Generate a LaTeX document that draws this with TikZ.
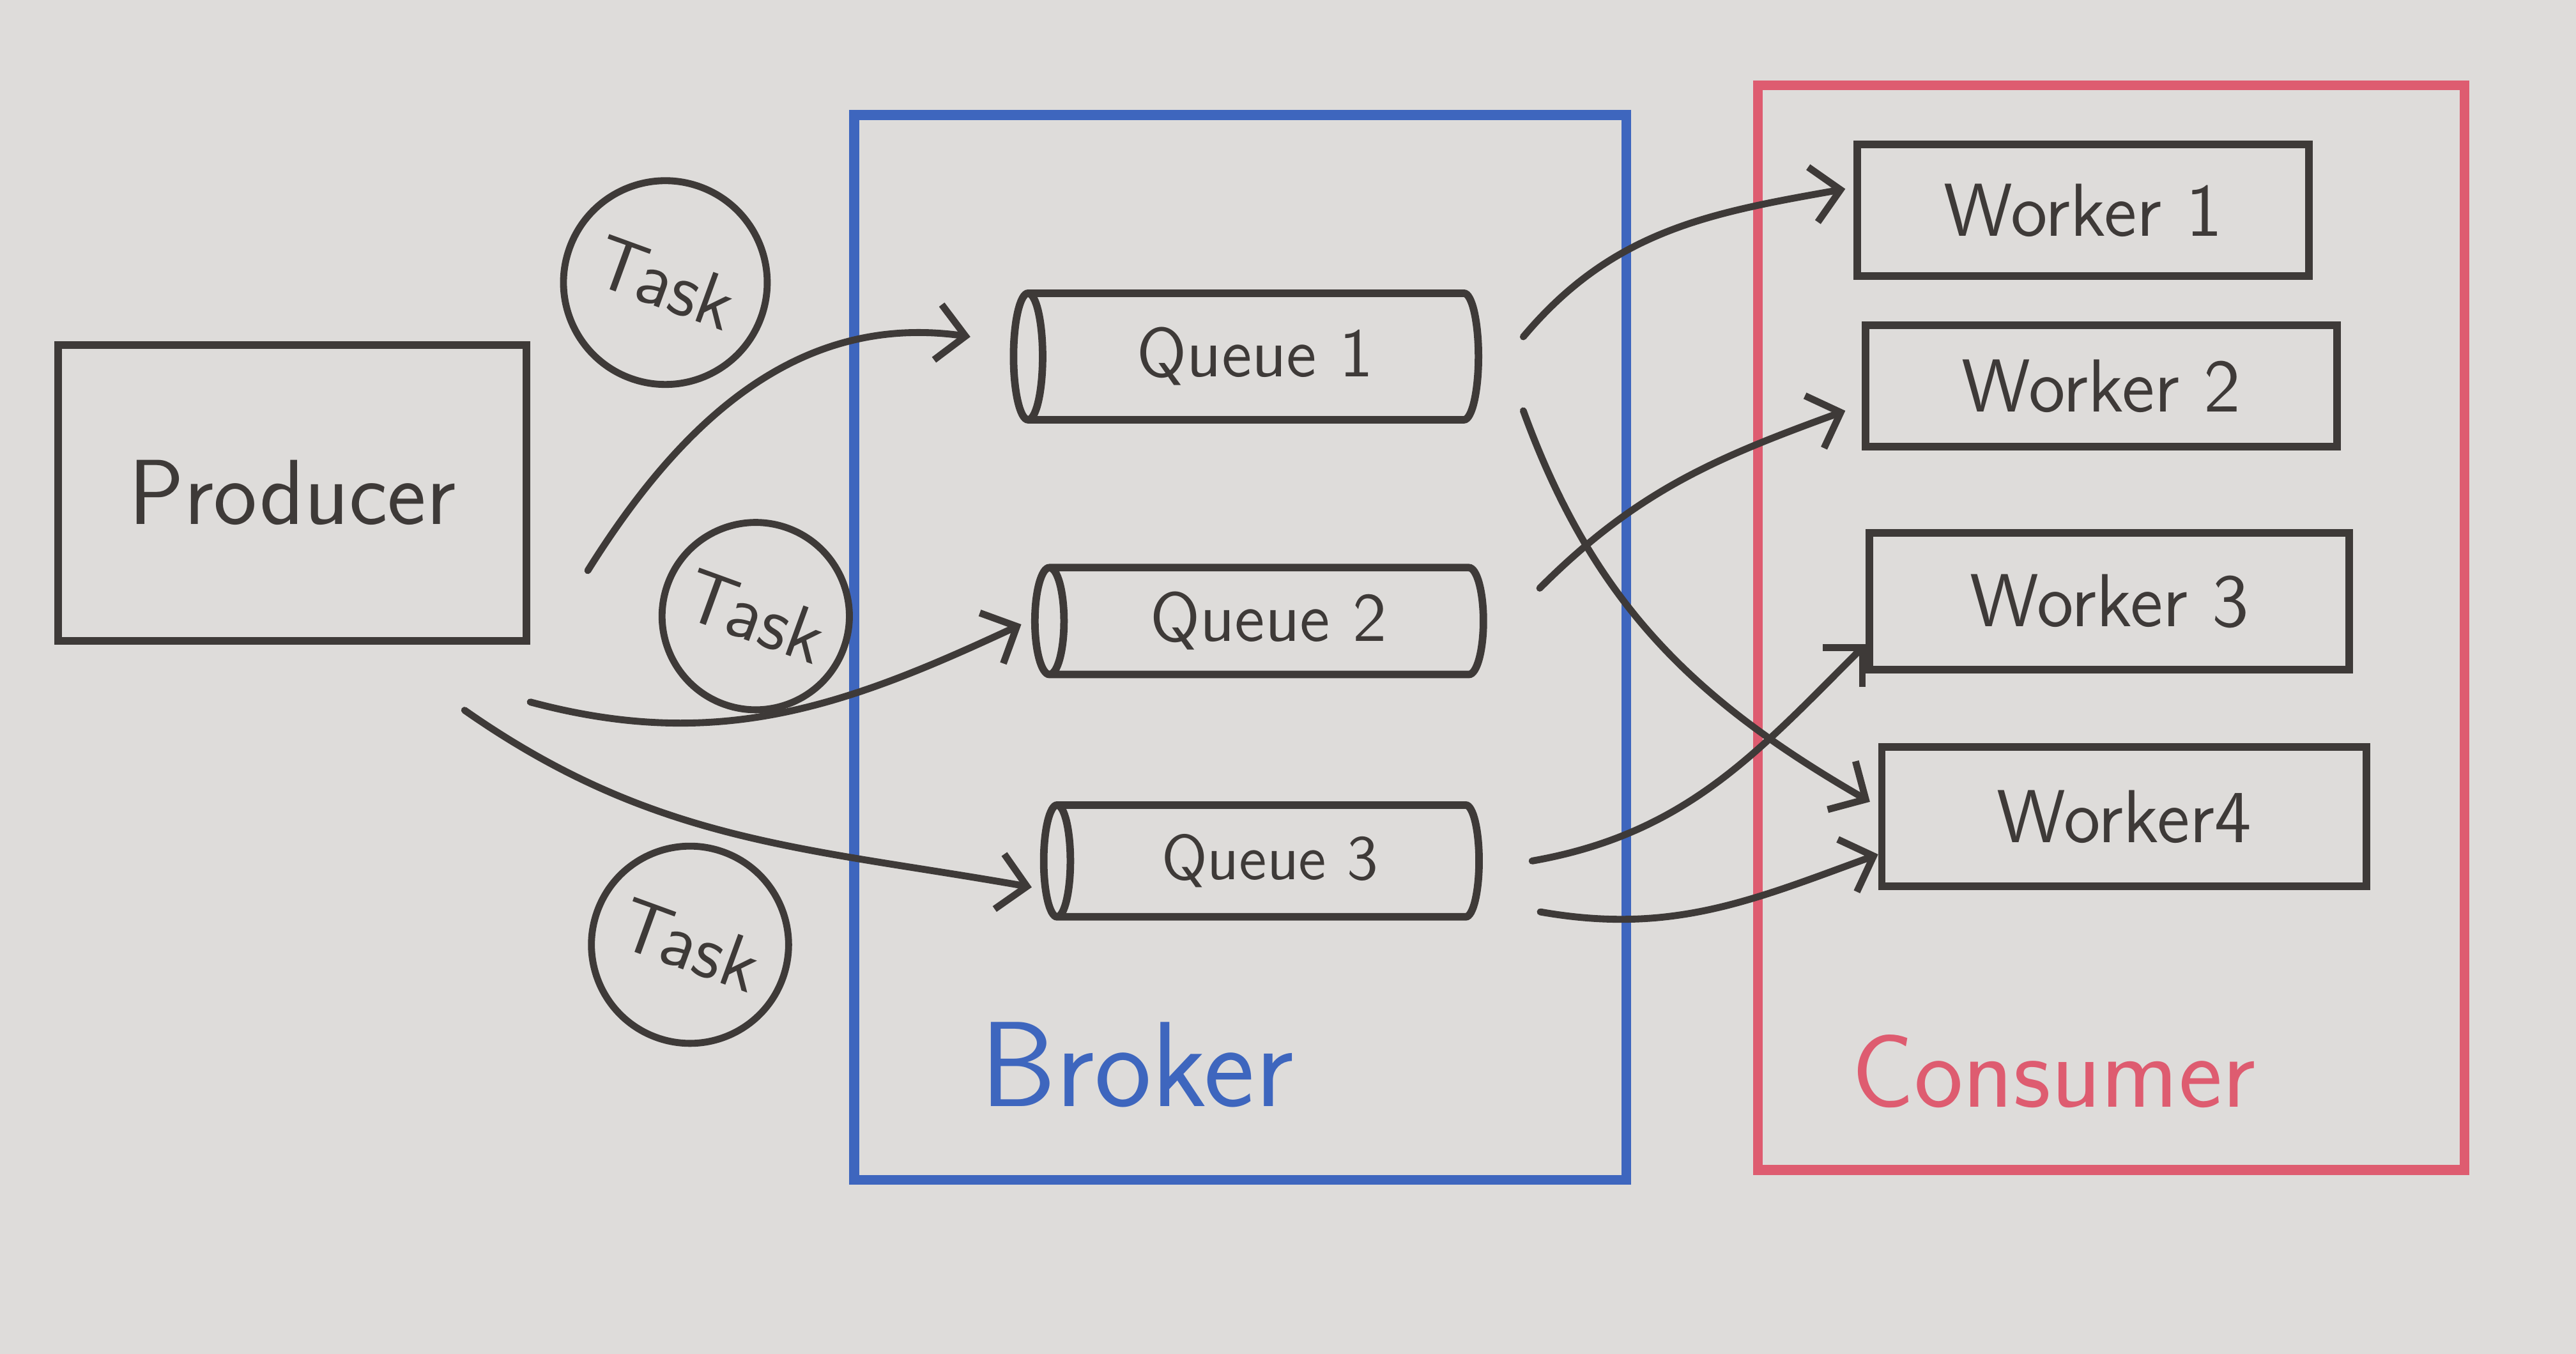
\documentclass[tikz,border=0pt]{standalone}
\usepackage{tikz}
\usetikzlibrary{arrows.meta}
\usetikzlibrary{shapes.geometric}
\usetikzlibrary{positioning}

\definecolor{board}{RGB}{222,220,218}
\definecolor{ink}{RGB}{62,58,56}
\definecolor{bluemarker}{RGB}{62,102,190}
\definecolor{redmarker}{RGB}{222,92,112}

\begin{document}
\begin{tikzpicture}[
  >={Straight Barb[angle=90:2.4mm, line width=1.2pt]},
  every node/.style={font=\sffamily},
  box/.style={draw=ink, line width=1.3pt, text=ink, rectangle, inner sep=0pt},
  queue/.style={draw=ink, line width=1.3pt, text=ink, cylinder, shape border rotate=180, aspect=0.5, inner sep=0pt},
  task/.style={draw=ink, line width=1.2pt, text=ink, circle, inner sep=0pt},
  frame/.style={rectangle, line width=1.7pt, inner sep=0pt},
  link/.style={->, draw=ink, line width=1.2pt, line cap=round}
]
\fill[board] (0,0) rectangle (15.68,8.24);
\useasboundingbox (0,0) rectangle (15.68,8.24);

% the two marker frames
\node[frame, draw=bluemarker, minimum width=4.7cm, minimum height=6.48cm] (broker) at (7.55,4.30) {};
\node[frame, draw=redmarker, minimum width=4.3cm, minimum height=6.6cm] (consumer) at (12.85,4.42) {};
\node[text=bluemarker, font=\sffamily\fontsize{21}{24}\selectfont] (brokerlabel) at (6.92,1.76) {Broker};
\node[text=redmarker, font=\sffamily\fontsize{18}{22}\selectfont] (consumerlabel) at (12.50,1.72) {Consumer};

% producer and tasks
\node[box, minimum width=2.85cm, minimum height=1.8cm, font=\sffamily\fontsize{16}{18}\selectfont] (producer) at (1.78,5.24) {Producer};
\node[task, minimum size=1.24cm, rotate=-20, font=\sffamily\fontsize{13}{15}\selectfont] (task1) at (4.05,6.52) {Task};
\node[task, minimum size=1.14cm, rotate=-20, font=\sffamily\fontsize{13}{15}\selectfont] (task2) at (4.60,4.49) {Task};
\node[task, minimum size=1.2cm, rotate=-20, font=\sffamily\fontsize{13}{15}\selectfont] (task3) at (4.20,2.49) {Task};

% queues
\node[queue, minimum width=0.77cm, minimum height=2.83cm, font=\sffamily\fontsize{12}{14}\selectfont] (q1) at (7.64,6.07) {Queue 1};
\node[queue, minimum width=0.65cm, minimum height=2.73cm, font=\sffamily\fontsize{12}{14}\selectfont] (q2) at (7.72,4.46) {Queue 2};
\node[queue, minimum width=0.68cm, minimum height=2.65cm, font=\sffamily\fontsize{11}{13}\selectfont] (q3) at (7.73,3.00) {Queue 3};

% workers
\node[box, minimum width=2.75cm, minimum height=0.8cm, font=\sffamily\fontsize{13}{15}\selectfont] (w1) at (12.68,6.96) {Worker 1};
\node[box, minimum width=2.87cm, minimum height=0.74cm, font=\sffamily\fontsize{13}{15}\selectfont] (w2) at (12.79,5.89) {Worker 2};
\node[box, minimum width=2.92cm, minimum height=0.83cm, font=\sffamily\fontsize{13}{15}\selectfont] (w3) at (12.84,4.58) {Worker 3};
\node[box, minimum width=2.95cm, minimum height=0.85cm, font=\sffamily\fontsize{13}{15}\selectfont] (w4) at (12.93,3.27) {Worker4};

% producer -> queues
\draw[link] ([shift={(0.35,0.45)}]producer.south east) to[out=58, in=172] ([shift={(-0.24,0.12)}]q1.west);
\draw[link] ([shift={(0,-0.35)}]producer.south east) to[out=-15, in=205] ([shift={(-0.06,-0.02)}]q2.west);
\draw[link] ([shift={(-0.4,-0.4)}]producer.south east) to[out=-35, in=170] ([shift={(-0.05,-0.16)}]q3.west);

% queues -> workers
\draw[link] ([shift={(0.25,0.12)}]q1.east) to[out=50, in=190] ([shift={(-0.05,0.13)}]w1.west);
\draw[link] ([shift={(0.25,-0.33)}]q1.east) to[out=-70, in=150] ([shift={(-0.05,0.09)}]w4.west);
\draw[link] ([shift={(0.32,0.2)}]q2.east) to[out=45, in=200] ([shift={(-0.1,-0.15)}]w2.west);
\draw[link] ([shift={(0.3,0)}]q3.east) to[out=10, in=225] ([shift={(0,-0.26)}]w3.west);
\draw[link] ([shift={(0.35,-0.31)}]q3.east) to[out=-10, in=200] ([shift={(0,-0.23)}]w4.west);
\end{tikzpicture}
\end{document}
